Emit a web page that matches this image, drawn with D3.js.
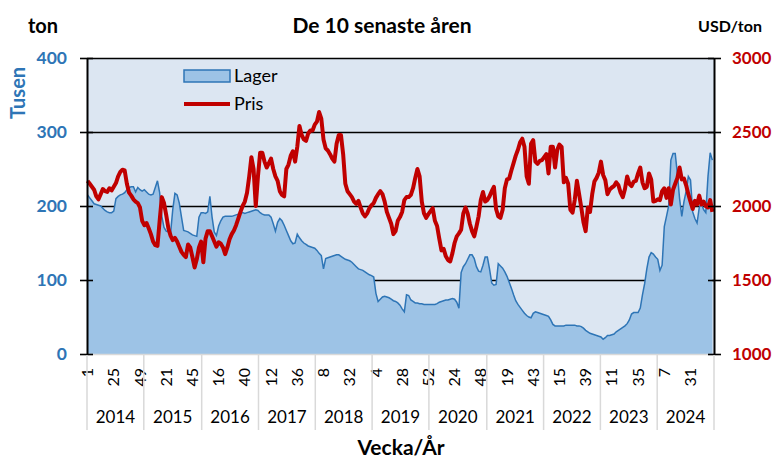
<!DOCTYPE html>
<html>
<head>
<meta charset="utf-8">
<script src="https://cdnjs.cloudflare.com/ajax/libs/d3/7.8.5/d3.min.js"></script>
<style>
body{margin:0;background:#fff;}
text{font-family:Lato,"Liberation Sans",sans-serif;}
</style>
</head>
<body>
<div class="boundary"></div>
<script>
// years on the category axis and number of weeks in each
var years = [2014,2015,2016,2017,2018,2019,2020,2021,2022,2023,2024];
var weeksPerYear = [52,53,52,52,52,52,53,52,52,52,52];
// week labels, one every 24 weeks
var tickLabels = ["1","25","49","21","45","16","40","12","36","8","32","4","28","52","24","48","19","43","15","39","11","35","7","31"];
var tickEvery = 24;
var step = 2; // one value read every second week, starting at week 1 2014

// Lager, tusen ton
var lager = [
 215,211,207,203,202,201,200,197,194,192,
 191,191,193,210,213,215,216,218,222,225,
 226,226,219,225,222,220,222,219,216,215,
 216,225,234,218,186,171,166,165,163,195,
 217,215,204,185,167,166,165,163,161,160,
 159,185,191,191,190,192,213,185,165,160,
 173,180,185,186,186,186,186,187,188,189,
 190,191,190,191,192,193,194,195,194,191,
 189,188,188,188,185,176,166,178,183,180,
 174,167,160,153,149,150,162,157,153,150,
 148,146,145,144,143,140,136,133,115,129,
 130,131,132,133,134,134,132,130,128,127,
 126,124,121,118,115,114,113,111,109,107,
 106,104,82,71,74,77,78,77,76,74,
 72,71,69,66,61,57,80,79,73,71,
 69,69,68,68,67,67,67,67,67,67,
 68,70,71,72,73,73,74,75,74,70,
 62,110,118,122,128,134,134,129,118,112,
 111,120,131,131,115,96,93,94,122,119,
 116,111,105,97,89,80,72,67,63,59,
 55,52,50,49,55,57,56,55,54,53,
 52,51,46,40,38,38,38,38,38,39,
 39,39,39,39,38,38,37,35,32,30,
 28,27,26,25,24,23,20,22,25,25,
 26,27,30,32,34,36,38,41,46,54,
 56,56,56,62,80,95,115,131,137,135,
 131,128,113,120,172,186,200,262,271,271,
 243,210,186,206,220,240,235,192,183,177,
 198,203,195,191,240,272,262
];

// Pris, USD/ton
var pris = [
 2170,2150,2130,2110,2065,2045,2080,2115,2100,2095,
 2120,2105,2130,2155,2200,2230,2245,2240,2150,2090,
 2070,2045,2030,2020,1990,1900,1870,1885,1850,1810,
 1760,1735,1730,1900,2060,2020,1940,1850,1800,1770,
 1785,1760,1725,1690,1670,1655,1740,1720,1655,1585,
 1640,1720,1760,1620,1780,1830,1830,1795,1760,1725,
 1755,1745,1720,1675,1720,1775,1810,1835,1870,1915,
 1960,2000,2030,2090,2200,2330,2250,2000,2200,2360,
 2360,2300,2260,2290,2320,2250,2200,2170,2100,2075,
 2065,2250,2280,2340,2370,2300,2400,2540,2480,2450,
 2440,2490,2510,2510,2550,2570,2635,2590,2450,2390,
 2375,2350,2320,2300,2420,2480,2480,2350,2150,2100,
 2080,2060,2030,2015,2035,1990,1950,1930,1950,1985,
 2005,2020,2055,2080,2100,2080,2030,1960,1920,1880,
 1810,1830,1900,1925,1960,2040,2060,2060,2075,2120,
 2190,2250,2200,2030,1950,1920,1945,1965,1985,1900,
 1865,1780,1700,1710,1660,1635,1625,1680,1750,1795,
 1815,1840,1950,1990,1950,1880,1830,1795,1860,1930,
 2040,2095,2030,2040,2065,2100,2130,1980,1930,1920,
 1975,2120,2180,2185,2240,2290,2340,2380,2430,2455,
 2400,2200,2150,2420,2445,2300,2285,2305,2310,2330,
 2350,2220,2400,2400,2260,2380,2415,2400,2160,2190,
 2150,1975,1955,2040,2170,2080,1990,1890,1830,1990,
 1960,2080,2165,2190,2225,2300,2210,2175,2080,2110,
 2125,2135,2160,2140,2090,2060,2115,2200,2150,2135,
 2165,2170,2220,2260,2160,2120,2130,2220,2180,2030,
 2035,2045,2040,2100,2120,2055,2120,2010,2110,2150,
 2190,2260,2180,2185,2140,2080,2030,1980,2035,2010,
 2070,2010,2030,2000,1990,2040,1960
];

var leftTicks = [0,100,200,300,400];
var rightTicks = [1000,1500,2000,2500,3000];

var width = 774, height = 460;
var plotLeft = 87, plotRight = 714, plotTop = 58, plotBottom = 354;
var blue = "#2e75b6", red = "#c00000";

var svg = d3.select(".boundary").append("svg")
            .attr("width",width).attr("height",height)
            .style("background","#fff");

var totalWeeks = d3.sum(weeksPerYear);
var x = d3.scaleLinear().domain([0,totalWeeks]).range([plotLeft,plotRight]);
var yL = d3.scaleLinear().domain([0,400]).range([plotBottom,plotTop]);
var yR = d3.scaleLinear().domain([1000,3000]).range([plotBottom,plotTop]);

// plot background
svg.append("rect").attr("x",plotLeft).attr("y",plotTop)
   .attr("width",plotRight-plotLeft).attr("height",plotBottom-plotTop).attr("fill","#dce6f2");

// gridlines, behind the area
svg.append("g").attr("transform","translate("+plotLeft+",0)")
   .call(d3.axisLeft(yL).tickValues([100,200,300,400]).tickSize(-(plotRight-plotLeft)).tickFormat(""))
   .call(function(g){ g.select(".domain").remove();
                      g.selectAll("line").attr("stroke","#000").attr("stroke-width",1.6); });

// lager area
var area = d3.area()
             .x(function(d,i){ return x(i*step+0.5); })
             .y0(yL(0))
             .y1(function(d){ return yL(d); });
var line = d3.line()
             .x(function(d,i){ return x(i*step+0.5); })
             .y(function(d){ return yL(d); });
svg.append("path").datum(lager).attr("d",area).attr("fill","#9dc3e6");
svg.append("path").datum(lager).attr("d",line).attr("fill","none")
   .attr("stroke",blue).attr("stroke-width",1.5);

// pris line
var prisLine = d3.line()
                 .x(function(d,i){ return x(i*step+0.5); })
                 .y(function(d){ return yR(d); });
svg.append("path").datum(pris).attr("d",prisLine).attr("fill","none")
   .attr("stroke",red).attr("stroke-width",4).attr("stroke-linejoin","round");

// x axis line
svg.append("line").attr("x1",plotLeft).attr("x2",plotRight).attr("y1",plotBottom+0.5).attr("y2",plotBottom+0.5)
   .attr("stroke","#d9d9d9").attr("stroke-width",1.5);

// left axis
var la = svg.append("g").attr("transform","translate("+plotLeft+",0)")
            .call(d3.axisLeft(yL).tickValues(leftTicks).tickSizeInner(7).tickSizeOuter(0).tickPadding(13));
la.select(".domain").attr("stroke","#000").attr("stroke-width",2);
la.selectAll(".tick line").attr("stroke","#000").attr("stroke-width",1.6).attr("x2",-7).attr("x1",6);
la.selectAll("text").attr("fill",blue).style("font-size","17.5px").style("font-weight","bold");

// right axis
var ra = svg.append("g").attr("transform","translate("+plotRight+",0)")
            .call(d3.axisRight(yR).tickValues(rightTicks).tickFormat(d3.format("d"))
                    .tickSizeInner(7).tickSizeOuter(0).tickPadding(11));
ra.select(".domain").attr("stroke","#000").attr("stroke-width",2);
ra.selectAll(".tick line").attr("stroke","#000").attr("stroke-width",1.6).attr("x1",-6);
ra.selectAll("text").attr("fill",red).style("font-size","17px").style("font-weight","bold");

// week tick labels
svg.append("g").selectAll("text").data(tickLabels).enter().append("text")
   .attr("transform",function(d,i){ return "translate("+x(i*tickEvery+0.5)+",368) rotate(-90)"; })
   .attr("dy","0.35em").attr("text-anchor","end")
   .style("font-size","16px").attr("fill","#000")
   .text(function(d){ return d; });

// year separators and year labels
var starts = [0];
weeksPerYear.forEach(function(w,i){ starts.push(starts[i]+w); });
svg.append("g").selectAll("line").data(starts).enter().append("line")
   .attr("x1",function(d){ return x(d); }).attr("x2",function(d){ return x(d); })
   .attr("y1",plotBottom+1).attr("y2",430)
   .attr("stroke","#d9d9d9").attr("stroke-width",1.5);
svg.append("g").selectAll("text").data(years).enter().append("text")
   .attr("x",function(d,i){ return (x(starts[i])+x(starts[i+1]))/2; })
   .attr("y",423).attr("text-anchor","middle")
   .style("font-size","17px").attr("fill","#000")
   .text(function(d){ return d; });

// titles
svg.append("text").attr("x",382).attr("y",33).attr("text-anchor","middle")
   .style("font-size","21px").style("font-weight","bold").text("De 10 senaste åren");
svg.append("text").attr("x",28).attr("y",33)
   .style("font-size","20px").style("font-weight","bold").text("ton");
svg.append("text").attr("x",730).attr("y",32).attr("text-anchor","middle")
   .style("font-size","16px").style("font-weight","bold").text("USD/ton");
svg.append("text").attr("transform","translate(25,93) rotate(-90)").attr("text-anchor","middle")
   .attr("fill",blue).style("font-size","20px").style("font-weight","bold").text("Tusen");
svg.append("text").attr("x",401).attr("y",455).attr("text-anchor","middle")
   .style("font-size","21px").style("font-weight","bold").text("Vecka/År");

// legend
var legend = svg.append("g").attr("transform","translate(184,0)");
legend.append("rect").attr("x",0).attr("y",70).attr("width",46).attr("height",12)
      .attr("fill","#9dc3e6").attr("stroke",blue).attr("stroke-width",1.5);
legend.append("text").attr("x",50).attr("y",82).style("font-size","18px").text("Lager");
legend.append("line").attr("x1",0).attr("x2",46).attr("y1",104).attr("y2",104)
      .attr("stroke",red).attr("stroke-width",4);
legend.append("text").attr("x",50).attr("y",110).style("font-size","18px").text("Pris");
</script>
</body>
</html>
